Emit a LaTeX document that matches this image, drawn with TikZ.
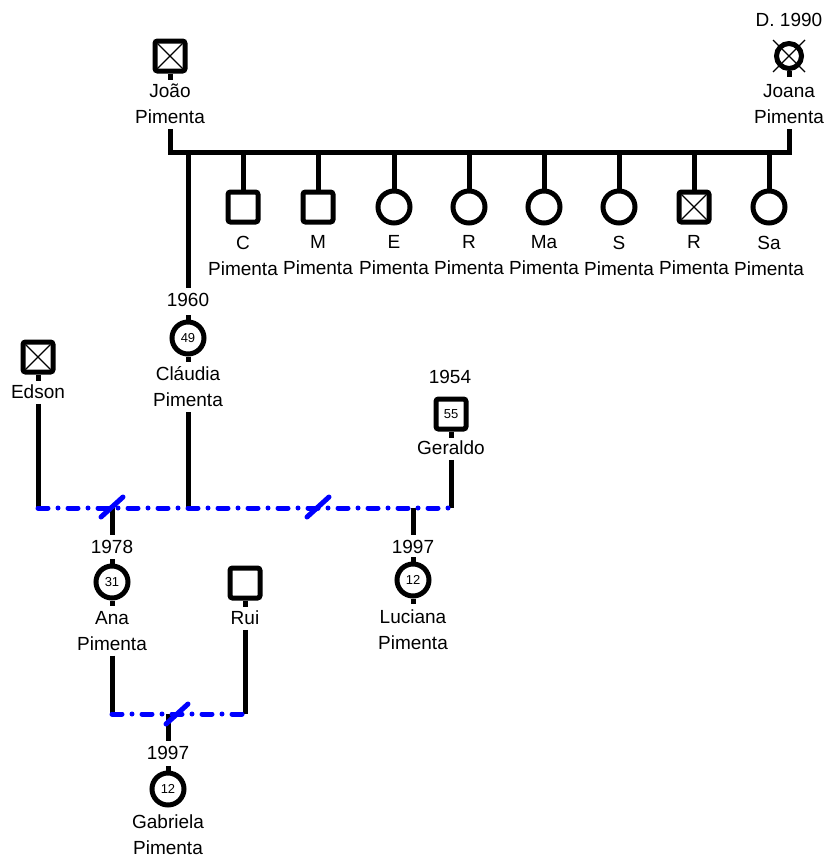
\documentclass[tikz,border=0pt]{standalone}
\usepackage{fontspec}
\setmainfont{Liberation Sans}
\begin{document}
\begin{tikzpicture}[x=1pt,y=-1pt,
  male/.style={rectangle,draw,line width=5pt,rounded corners=2.5pt,minimum size=30pt,inner sep=0pt},
  female/.style={circle,draw,line width=5pt,minimum size=32pt,inner sep=0pt},
  age/.style={font=\fontsize{13}{13}\selectfont},
  lbl/.style={font=\fontsize{19}{26}\selectfont,align=center,inner sep=0pt,outer sep=5pt},
  rel/.style={line width=5pt},
  xline/.style={line width=1.3pt},
  marr/.style={blue,line width=5pt,line cap=round,dash pattern=on 10pt off 10pt on 0pt off 10pt},
  divorce/.style={blue,line width=5pt,line cap=round}]
\useasboundingbox (0,0) rectangle (827,860);

% ---------- João & Joana ----------
\node[male] (jo) at (170,56) {};
\draw[xline] ([shift={(5,5)}]jo.north west) -- ([shift={(-5,-5)}]jo.south east);
\draw[xline] ([shift={(-5,5)}]jo.north east) -- ([shift={(5,-5)}]jo.south west);
\draw[rel] (jo.south) -- ++(0,6);
\node[lbl] (jol) at (170,104) {João\\Pimenta};

\node[lbl] (jnd) at (789,20) {D. 1990};
\node[female,minimum size=25pt] (jn) at (789,56) {};
\draw[xline] (773,40) -- (805,72);
\draw[xline] (805,40) -- (773,72);
\draw[rel] (jn.south) -- ++(0,6);
\node[lbl] (jnl) at (789,104) {Joana\\Pimenta};

\coordinate (barL) at (170,152);
\coordinate (barR) at (789,152);
\draw[rel,line join=miter] (jol.south) -- (barL) -- (barR) -- (jnl.south);

% ---------- children of João & Joana ----------
\foreach \x/\n/\t in {243/c1/C, 318/c2/M, 694/c7/R}{
  \node[male] (\n) at (\x,207) {};
  \coordinate (b\n) at (\x,152);
  \draw[rel] (b\n) -- (\n.north);
  \node[lbl] (\n l) at (\x,255.5) {\t\\Pimenta};
}
\draw[xline] ([shift={(5,5)}]c7.north west) -- ([shift={(-5,-5)}]c7.south east);
\draw[xline] ([shift={(-5,5)}]c7.north east) -- ([shift={(5,-5)}]c7.south west);
\foreach \x/\n/\t in {394/c3/E, 469/c4/R, 544/c5/Ma, 619/c6/S, 769/c8/Sa}{
  \node[female] (\n) at (\x,207) {};
  \coordinate (b\n) at (\x,152);
  \draw[rel] (b\n) -- (\n.north);
  \node[lbl] (\n l) at (\x,255.5) {\t\\Pimenta};
}

% ---------- Cláudia ----------
\coordinate (bcl) at (188,152);
\node[lbl] (cly) at (188,300) {1960};
\node[female,age] (cl) at (188,338) {49};
\draw[rel] (cl.north) -- ++(0,-5);
\draw[rel] (cl.south) -- ++(0,5);
\node[lbl] (cll) at (188,387) {Cláudia\\Pimenta};
\draw[rel] (bcl) -- (cly.north);

% ---------- Edson ----------
\node[male] (ed) at (38,357) {};
\draw[xline] ([shift={(5,5)}]ed.north west) -- ([shift={(-5,-5)}]ed.south east);
\draw[xline] ([shift={(-5,5)}]ed.north east) -- ([shift={(5,-5)}]ed.south west);
\draw[rel] (ed.south) -- ++(0,6);
\node[lbl] (edl) at (38,392) {Edson};

% ---------- Geraldo ----------
\node[lbl] (gey) at (450,377) {1954};
\node[male,age] (ge) at (451,414) {55};
\draw[rel] (ge.south) -- ++(0,6);
\node[lbl] (gel) at (451,448) {Geraldo};

% ---------- marriage line 1 ----------
\coordinate (m1L) at (38,508);
\coordinate (m1C) at (188,508);
\coordinate (m1R) at (451,508);
\coordinate (m1a) at (112,508);
\coordinate (m1b) at (413,508);
\coordinate (d1) at (112,507);
\coordinate (d2) at (318,507);
\draw[rel] (edl.south) -- (m1L);
\draw[rel] (cll.south) -- (m1C);
\draw[rel] (gel.south) -- (m1R);

% ---------- Ana ----------
\node[lbl] (any) at (112,547) {1978};
\node[female,age] (an) at (112,582) {31};
\draw[rel] (an.north) -- ++(0,-5);
\draw[rel] (an.south) -- ++(0,5);
\node[lbl] (anl) at (112,631) {Ana\\Pimenta};
\draw[rel] (m1a) -- (any.north);

% ---------- Luciana ----------
\node[lbl] (luy) at (413,547) {1997};
\node[female,age] (lu) at (413,580) {12};
\draw[rel] (lu.north) -- ++(0,-5);
\draw[rel] (lu.south) -- ++(0,5);
\node[lbl] (lul) at (413,630) {Luciana\\Pimenta};
\draw[rel] (m1b) -- (luy.north);

\draw[marr] (m1L) -- (m1R);
\draw[divorce] (d1) ++(-11,10) -- ++(22,-20);
\draw[divorce] (d2) ++(-11,10) -- ++(22,-20);

% ---------- Rui ----------
\node[male] (ru) at (245,583) {};
\draw[rel] (ru.south) -- ++(0,6);
\node[lbl] (rul) at (245,618) {Rui};

% ---------- marriage line 2 ----------
\coordinate (m2L) at (112,714);
\coordinate (m2R) at (245,714);
\coordinate (m2a) at (168,714);
\coordinate (d3) at (177,714);
\draw[rel] (anl.south) -- (m2L);
\draw[rel] (rul.south) -- (m2R);

% ---------- Gabriela ----------
\node[lbl] (gay) at (168,753) {1997};
\node[female,age] (ga) at (168,789) {12};
\draw[rel] (ga.north) -- ++(0,-5);
\node[lbl] (gal) at (168,835) {Gabriela\\Pimenta};
\draw[rel] (m2a) -- (gay.north);

\draw[marr] (m2L) -- (m2R);
\draw[divorce] (d3) ++(-11,10) -- ++(22,-20);
\end{tikzpicture}
\end{document}
